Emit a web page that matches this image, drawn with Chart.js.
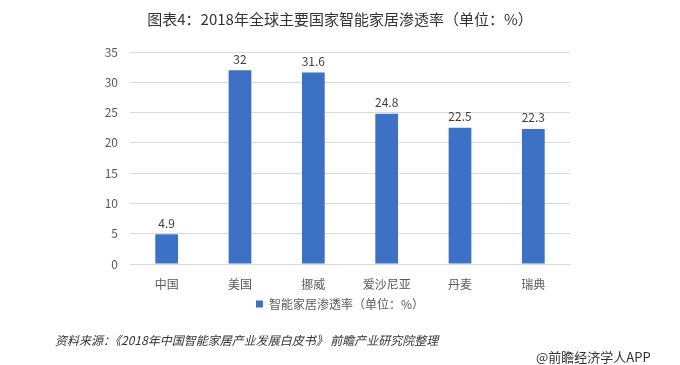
<!DOCTYPE html>
<html>
<head>
<meta charset="utf-8">
<script src="https://cdn.jsdelivr.net/npm/chart.js@4"></script>
<style>
  html, body { margin: 0; padding: 0; background: #fff; }
  #wrap { position: relative; width: 680px; height: 365px; }
  #chart { position: absolute; left: 0; top: 0; }
  .note { position: absolute; font-family: "Noto Sans CJK SC", sans-serif; color: #333; white-space: nowrap; }
  #source { left: 55px; top: 331px; font-size: 12px; font-style: italic; }
  #brand { left: 536px; top: 347px; font-size: 13px; }
</style>
</head>
<body>
<div id="wrap">
  <canvas id="chart" width="680" height="365"></canvas>
  <div class="note" id="source">资料来源：《2018年中国智能家居产业发展白皮书》 前瞻产业研究院整理</div>
  <div class="note" id="brand">@前瞻经济学人APP</div>
</div>
<script>
  'use strict';

  // Chart data
  const countries = ['中国', '美国', '挪威', '爱沙尼亚', '丹麦', '瑞典'];
  const penetration = [4.9, 32, 31.6, 24.8, 22.5, 22.3];
  const yTicks = [0, 5, 10, 15, 20, 25, 30, 35];

  const cjkFont = '"Noto Sans CJK SC", sans-serif';
  const barColor = '#3c71c5';

  // Values printed above each bar
  const barValueLabels = {
    id: 'barValueLabels',
    afterDatasetsDraw(chart) {
      const ctx = chart.ctx;
      const meta = chart.getDatasetMeta(0);
      ctx.save();
      ctx.font = '12px ' + cjkFont;
      ctx.fillStyle = '#404040';
      ctx.textAlign = 'center';
      ctx.textBaseline = 'bottom';
      meta.data.forEach((bar, i) => {
        ctx.fillText(String(penetration[i]), bar.x, bar.y - 5);
      });
      ctx.restore();
    }
  };

  const ctx = document.getElementById('chart').getContext('2d');
  new Chart(ctx, {
    type: 'bar',
    data: {
      labels: countries,
      datasets: [{
        label: '智能家居渗透率（单位：%）',
        data: penetration,
        backgroundColor: barColor,
        barPercentage: 0.62,
        categoryPercentage: 0.5
      }]
    },
    options: {
      responsive: false,
      animation: false,
      layout: {
        padding: { left: 0, right: 0, top: 0, bottom: 45 }
      },
      plugins: {
        title: {
          display: true,
          text: '图表4：2018年全球主要国家智能家居渗透率（单位：%）',
          color: '#333',
          font: { family: cjkFont, size: 15, weight: 'normal' },
          padding: { top: 10, bottom: 24 }
        },
        legend: {
          position: 'bottom',
          labels: {
            color: '#595959',
            font: { family: cjkFont, size: 12 },
            boxWidth: 7,
            boxHeight: 7,
            padding: 4
          }
        },
        tooltip: { enabled: false }
      },
      scales: {
        x: {
          grid: { display: false, drawTicks: false },
          border: { color: '#d9d9d9' },
          ticks: {
            color: '#595959',
            font: { family: cjkFont, size: 12 },
            padding: 13
          },
          afterFit(scale) { scale.height = 30; }
        },
        y: {
          min: 0,
          max: 35,
          afterBuildTicks(scale) {
            scale.ticks = yTicks.map(v => ({ value: v }));
          },
          grid: { color: '#d9d9d9', drawTicks: false },
          border: { display: false },
          ticks: {
            color: '#595959',
            font: { family: cjkFont, size: 12 },
            padding: 12
          },
          afterFit(scale) { scale.width = 130; }
        },
        // empty right axis that only reserves the blank space right of the plot
        spacer: {
          position: 'right',
          grid: { display: false, drawTicks: false },
          border: { display: false },
          ticks: { display: false },
          afterFit(scale) { scale.width = 110; }
        }
      }
    },
    plugins: [barValueLabels]
  });
</script>
</body>
</html>
